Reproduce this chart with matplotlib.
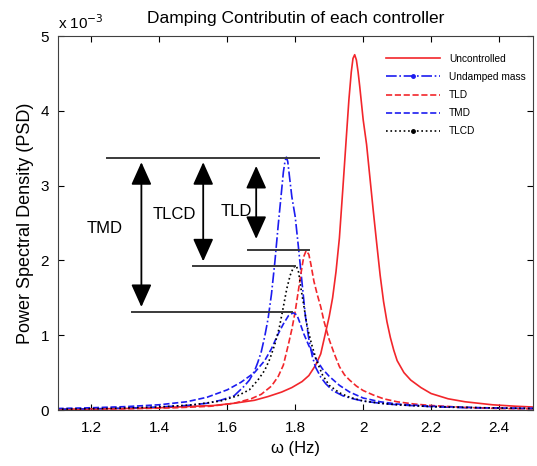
import matplotlib
matplotlib.use("Agg")
import matplotlib.pyplot as plt
from matplotlib.lines import Line2D
from matplotlib.patches import FancyArrowPatch

plt.rcParams['font.family'] = ['Liberation Sans', 'DejaVu Sans']

# PSD curves, values in units of 1e-3
w_unc = [1.10, 1.20, 1.30, 1.40, 1.50, 1.56, 1.62, 1.68, 1.72, 1.76, 1.79, 1.82, 1.84, 1.86,
         1.875, 1.89, 1.90, 1.91, 1.92, 1.93, 1.94, 1.95, 1.958, 1.965, 1.970, 1.975, 1.980,
         1.985, 1.99, 1.995, 2.00, 2.01, 2.02, 2.03, 2.04, 2.05, 2.06, 2.07, 2.08, 2.09,
         2.10, 2.12, 2.14, 2.17, 2.20, 2.25, 2.30, 2.38, 2.45, 2.50]
psd_unc = [0.01, 0.015, 0.02, 0.03, 0.05, 0.06, 0.09, 0.13, 0.18, 0.24, 0.30, 0.38, 0.46, 0.60,
           0.75, 1.05, 1.25, 1.50, 1.85, 2.30, 2.95, 3.62, 4.15, 4.52, 4.70, 4.75, 4.68,
           4.52, 4.32, 4.10, 3.88, 3.55, 3.10, 2.65, 2.22, 1.80, 1.45, 1.18, 0.97, 0.80,
           0.66, 0.50, 0.40, 0.30, 0.22, 0.15, 0.11, 0.07, 0.05, 0.04]

w_und = [1.10, 1.20, 1.30, 1.40, 1.48, 1.54, 1.58, 1.62, 1.65, 1.665, 1.68, 1.69, 1.70, 1.71,
         1.72, 1.73, 1.74, 1.75, 1.758, 1.765, 1.770, 1.774, 1.778, 1.783, 1.79, 1.80, 1.81,
         1.82, 1.83, 1.84, 1.85, 1.86, 1.875, 1.89, 1.91, 1.94, 1.97, 2.00, 2.05, 2.10,
         2.20, 2.30, 2.40, 2.50]
psd_und = [0.01, 0.015, 0.025, 0.04, 0.06, 0.09, 0.13, 0.19, 0.32, 0.40, 0.52, 0.64, 0.78, 0.98,
           1.22, 1.55, 1.98, 2.48, 2.85, 3.18, 3.33, 3.38, 3.32, 3.12, 2.85, 2.58, 2.15,
           1.70, 1.25, 0.95, 0.72, 0.57, 0.44, 0.35, 0.26, 0.19, 0.15, 0.12, 0.09, 0.07,
           0.045, 0.03, 0.025, 0.02]

w_tld = [1.10, 1.30, 1.45, 1.55, 1.62, 1.67, 1.70, 1.73, 1.75, 1.765, 1.78, 1.79, 1.80, 1.81,
         1.818, 1.825, 1.832, 1.84, 1.846, 1.855, 1.865, 1.875, 1.885, 1.90, 1.915, 1.93,
         1.945, 1.96, 1.98, 2.00, 2.03, 2.06, 2.10, 2.15, 2.20, 2.30, 2.40, 2.50]
psd_tld = [0.01, 0.015, 0.03, 0.05, 0.09, 0.15, 0.21, 0.32, 0.45, 0.60, 0.88, 1.08, 1.32, 1.62,
           1.86, 2.05, 2.13, 2.08, 1.95, 1.72, 1.54, 1.38, 1.18, 0.94, 0.75, 0.58,
           0.47, 0.40, 0.32, 0.26, 0.20, 0.15, 0.11, 0.08, 0.06, 0.035, 0.02, 0.015]

w_tmd = [1.10, 1.20, 1.30, 1.40, 1.48, 1.54, 1.60, 1.64, 1.68, 1.71, 1.73, 1.75, 1.765, 1.78,
         1.794, 1.805, 1.815, 1.825, 1.84, 1.86, 1.88, 1.90, 1.93, 1.96, 2.00, 2.05, 2.10,
         2.20, 2.35, 2.50]
psd_tmd = [0.02, 0.03, 0.045, 0.07, 0.11, 0.17, 0.27, 0.37, 0.50, 0.66, 0.82, 1.02, 1.15, 1.26,
           1.30, 1.27, 1.15, 1.02, 0.86, 0.69, 0.55, 0.45, 0.33, 0.24, 0.16, 0.11, 0.08,
           0.05, 0.03, 0.02]

w_tlcd = [1.10, 1.25, 1.40, 1.50, 1.58, 1.63, 1.665, 1.69, 1.71, 1.725, 1.74, 1.753, 1.765,
          1.775, 1.785, 1.795, 1.803, 1.81, 1.817, 1.825, 1.835, 1.848, 1.862, 1.88, 1.90,
          1.93, 1.96, 2.00, 2.05, 2.10, 2.20, 2.35, 2.50]
psd_tlcd = [0.01, 0.02, 0.04, 0.07, 0.12, 0.19, 0.27, 0.40, 0.53, 0.68, 0.88, 1.10, 1.38,
            1.62, 1.80, 1.91, 1.93, 1.84, 1.62, 1.40, 1.12, 0.88, 0.67, 0.47, 0.33,
            0.23, 0.17, 0.12, 0.09, 0.07, 0.045, 0.03, 0.02]

# reference levels: (level, x start, x end)
levels = [
    (3.37, 1.247, 1.871),
    (2.14, 1.662, 1.841),
    (1.93, 1.500, 1.800),
    (1.31, 1.320, 1.790),
]
# reduction arrows: (label, x, y bottom, y top, label x, label y)
arrows = [
    ('TMD', 1.347, 1.34, 3.35, 1.238, 2.43),
    ('TLCD', 1.529, 1.95, 3.35, 1.444, 2.61),
    ('TLD', 1.685, 2.25, 3.30, 1.626, 2.65),
]

RED = '#f2262b'
BLUE = '#1c1cf0'

fig = plt.figure(figsize=(5.37, 4.66), dpi=100)
ax = fig.add_axes([57.5 / 537, 56 / 466, (533 - 57.5) / 537, (410 - 36) / 466])

ax.plot(w_unc, psd_unc, '-', color=RED, lw=1.2)
ax.plot(w_und, psd_und, '-.', color=BLUE, lw=1.2)
ax.plot(w_tld, psd_tld, '--', color=RED, lw=1.2)
ax.plot(w_tmd, psd_tmd, '--', color=BLUE, lw=1.2)
ax.plot(w_tlcd, psd_tlcd, ':', color='black', lw=1.2)

for lvl, x0, x1 in levels:
    ax.plot([x0, x1], [lvl, lvl], color='#3a3a3a', lw=1.4)

for name, x, y0, y1, tx, ty in arrows:
    ax.add_patch(FancyArrowPatch((x, y0), (x, y1),
                                 arrowstyle='<|-|>,head_length=1.0,head_width=0.45',
                                 mutation_scale=14, color='black', lw=1.3))
    ax.text(tx, ty, name, ha='center', va='center', fontsize=12)

ax.set_xlim(1.1, 2.5)
ax.set_ylim(0, 5)
ax.set_xticks([1.2, 1.4, 1.6, 1.8, 2.0, 2.2, 2.4])
ax.set_xticklabels(['1.2', '1.4', '1.6', '1.8', '2', '2.2', '2.4'])
ax.set_yticks([0, 1, 2, 3, 4, 5])
ax.tick_params(direction='in', top=True, right=True, labelsize=11, length=4)
ax.tick_params(axis='x', pad=8)
ax.tick_params(axis='y', pad=6)
for s in ax.spines.values():
    s.set_color('#404040')

ax.text(0.0, 1.012, r'x 10$^{-3}$', transform=ax.transAxes, fontsize=11, va='bottom')
ax.set_title('Damping Contributin of each controller', fontsize=12.5, pad=9)
ax.set_xlabel('ω (Hz)', fontsize=12, labelpad=4)
ax.set_ylabel('Power Spectral Density (PSD)', fontsize=13, labelpad=5)

handles = [
    Line2D([], [], ls='-', color=RED, lw=1.2),
    Line2D([], [], ls='-.', color=BLUE, lw=1.2, marker='.', ms=5),
    Line2D([], [], ls='--', color=RED, lw=1.2),
    Line2D([], [], ls='--', color=BLUE, lw=1.2),
    Line2D([], [], ls=':', color='black', lw=1.2, marker='.', ms=5),
]
names = ['Uncontrolled', 'Undamped mass', 'TLD', 'TMD', 'TLCD']
ax.legend(handles, names, loc='upper right', bbox_to_anchor=(1.015, 0.99), frameon=False,
          fontsize=7.3, numpoints=1, handlelength=5.3, handletextpad=0.9,
          labelspacing=0.8, borderaxespad=1.0)

fig.savefig('out.png', dpi=100)
